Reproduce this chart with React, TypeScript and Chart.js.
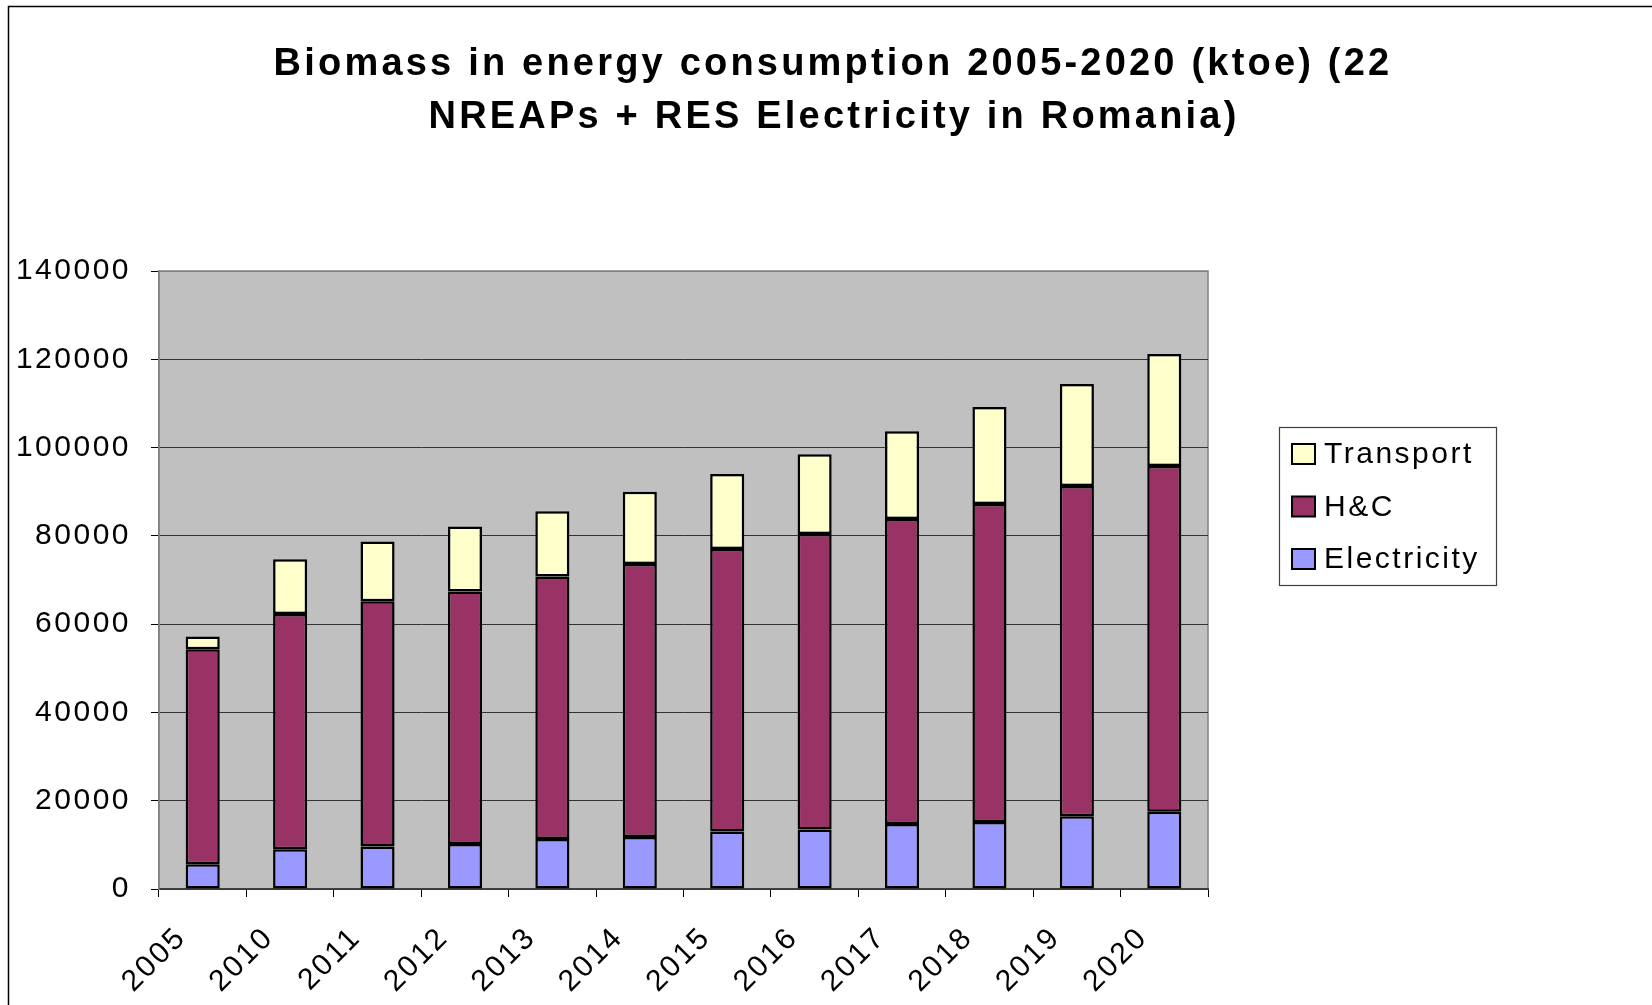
import React, { useEffect, useRef } from "react";
import { Chart, registerables } from "chart.js";

Chart.register(...registerables);

const years = ["2005", "2010", "2011", "2012", "2013", "2014", "2015", "2016", "2017", "2018", "2019", "2020"];
const electricity = [5600, 9000, 9600, 10200, 11300, 11800, 13000, 13500, 14700, 15200, 16500, 17500];
const heatingCooling = [48700, 53300, 55600, 57200, 59500, 61800, 64000, 66900, 69100, 72000, 74800, 78300];
const transport = [2900, 12400, 13500, 14700, 14750, 16400, 17000, 18100, 19900, 22000, 23100, 25400];

const yMin = 0;
const yMax = 140000;
const yStep = 20000;

const titleLines = [
  "Biomass in energy consumption 2005-2020 (ktoe) (22",
  "NREAPs + RES Electricity in Romania)",
];

const seriesNames = ["Electricity", "H&C", "Transport"];
const seriesColors = ["#9999FF", "#993366", "#FFFFCC"];

const FONT = '"Liberation Sans", Arial, Helvetica, sans-serif';

const decorPlugin = {
  id: "decor",
  beforeDraw(chart: any) {
    const { ctx, chartArea: a } = chart;
    ctx.save();
    ctx.fillStyle = "#ffffff";
    ctx.fillRect(0, 0, chart.width, chart.height);
    // outer frame
    ctx.strokeStyle = "#000000";
    ctx.lineWidth = 1.5;
    ctx.beginPath();
    ctx.moveTo(8.5, chart.height + 5);
    ctx.lineTo(8.5, 6.5);
    ctx.lineTo(chart.width + 5, 6.5);
    ctx.stroke();
    // plot background
    ctx.fillStyle = "#C0C0C0";
    ctx.fillRect(a.left, a.top, a.right - a.left, a.bottom - a.top);
    ctx.strokeStyle = "#808080";
    ctx.lineWidth = 1.5;
    ctx.strokeRect(a.left, a.top, a.right - a.left, a.bottom - a.top);
    // title
    ctx.fillStyle = "#000000";
    ctx.font = "bold 38px " + FONT;
    (ctx as any).letterSpacing = "3.2px";
    ctx.textAlign = "center";
    ctx.textBaseline = "alphabetic";
    ctx.fillText(titleLines[0], 833, 75);
    ctx.fillText(titleLines[1], 834, 128);
    ctx.restore();
    (ctx as any).letterSpacing = "2.5px";
  },
  afterDraw(chart: any) {
    const { ctx } = chart;
    ctx.save();
    (ctx as any).letterSpacing = "2.5px";
    // legend box
    ctx.fillStyle = "#ffffff";
    ctx.fillRect(1279, 427, 218, 159);
    ctx.strokeStyle = "#404040";
    ctx.lineWidth = 1.2;
    ctx.strokeRect(1279.5, 427.5, 217, 158);
    const ds = chart.data.datasets;
    const order = ds.map((_: any, i: number) => i).reverse();
    ctx.font = "30px " + FONT;
    ctx.textAlign = "left";
    ctx.textBaseline = "middle";
    order.forEach((di: number, row: number) => {
      const cy = 454 + row * 52.5;
      ctx.fillStyle = ds[di].backgroundColor;
      ctx.fillRect(1292, cy - 10, 23, 20);
      ctx.strokeStyle = "#000000";
      ctx.lineWidth = 2;
      ctx.strokeRect(1292, cy - 10, 23, 20);
      ctx.fillStyle = "#000000";
      ctx.fillText(ds[di].label, 1324, cy + 1);
    });
    ctx.restore();
  },
};

export default function App() {
  const ref = useRef<HTMLCanvasElement | null>(null);

  useEffect(() => {
    if (!ref.current) return;
    const data = [electricity, heatingCooling, transport];
    const chart = new Chart(ref.current, {
      type: "bar",
      data: {
        labels: years,
        datasets: data.map((d, i) => ({
          label: seriesNames[i],
          data: d,
          backgroundColor: seriesColors[i],
          borderColor: "#000000",
          borderWidth: 2.5,
          borderSkipped: false,
          barPercentage: 0.39,
          categoryPercentage: 1,
        })),
      },
      options: {
        responsive: false,
        animation: false,
        layout: { padding: { left: 0, top: 271, right: 444, bottom: 0 } },
        plugins: {
          legend: { display: false },
          title: { display: false },
          tooltip: { enabled: false },
        },
        scales: {
          x: {
            stacked: true,
            offset: true,
            afterFit: (s: any) => {
              s.height = 116;
            },
            grid: {
              offset: true,
              drawOnChartArea: false,
              drawTicks: true,
              tickLength: 8,
              tickColor: "#000000",
              lineWidth: 1,
            },
            border: { color: "#404040", width: 1.5 },
            ticks: {
              autoSkip: false,
              minRotation: 45,
              maxRotation: 45,
              color: "#000000",
              padding: 23,
              labelOffset: -21,
              font: { family: FONT, size: 30 },
            },
          },
          y: {
            stacked: true,
            min: yMin,
            max: yMax,
            afterFit: (s: any) => {
              s.width = 159;
            },
            grid: {
              color: (c: any) => (c.tick && c.tick.value === yMax ? "#808080" : "#333333"),
              tickColor: "#000000",
              tickLength: 8,
              lineWidth: 1,
            },
            border: { color: "#808080", width: 1.5 },
            ticks: {
              stepSize: yStep,
              color: "#000000",
              padding: 20,
              font: { family: FONT, size: 30 },
              callback: (v: any) => String(v),
            },
          },
        },
      },
      plugins: [decorPlugin],
    });
    return () => chart.destroy();
  }, []);

  return (
    <div style={{ position: "fixed", left: 0, top: 0, width: 1652, height: 1005, background: "#fff" }}>
      <canvas ref={ref} width={1652} height={1005} style={{ display: "block", width: 1652, height: 1005 }} />
    </div>
  );
}
